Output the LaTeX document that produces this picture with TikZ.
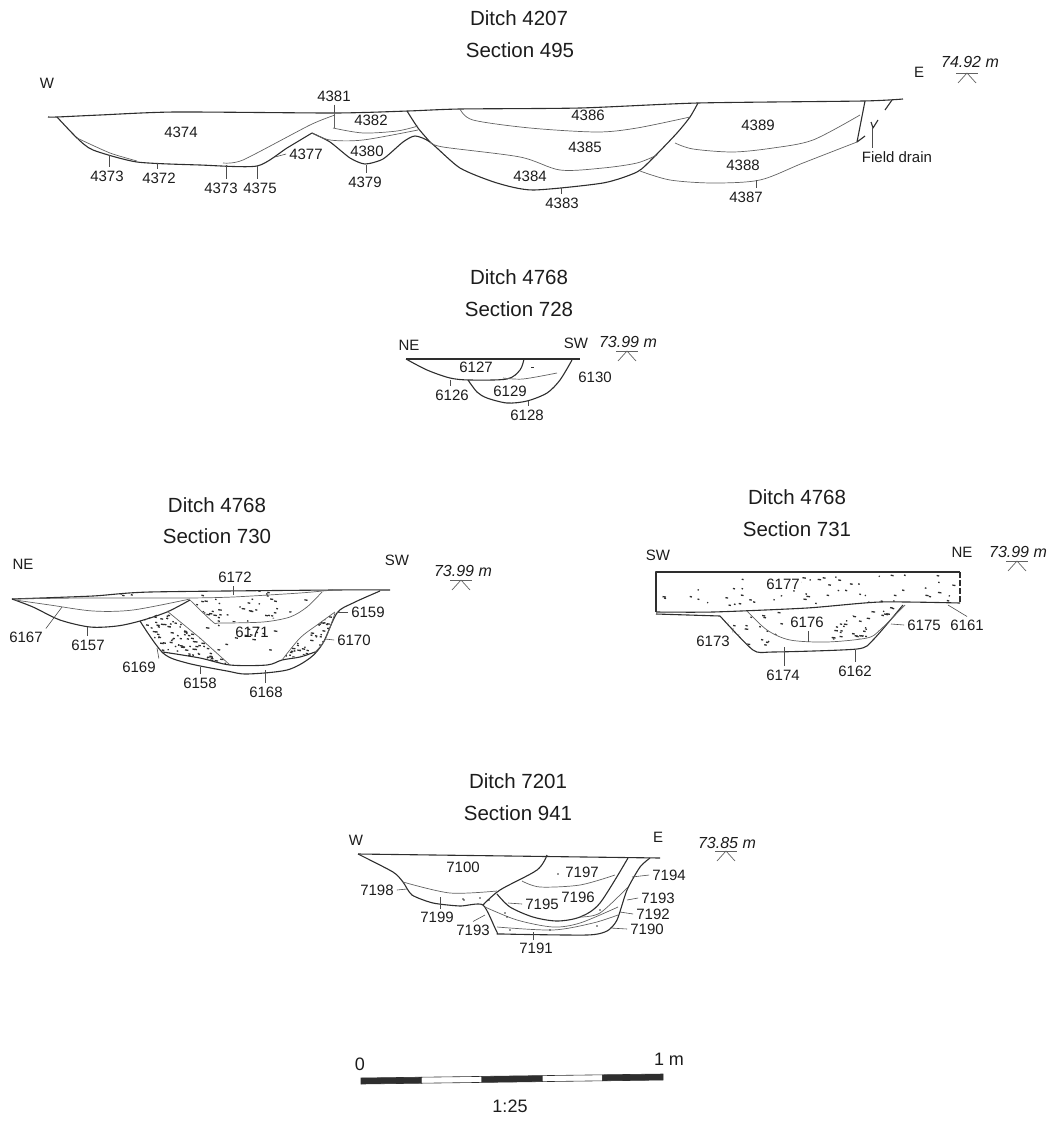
\documentclass[tikz,border=0pt]{standalone}
\usepackage{fontspec}
\setmainfont{Liberation Sans}
\definecolor{inkline}{HTML}{2E2E2E}
\definecolor{inktext}{HTML}{1C1C1C}
\tikzset{
  cutline/.style={inkline, line width=1.1pt, line join=round},
  fillline/.style={inkline!75, line width=0.7pt, line join=round},
  lead/.style={inkline!85, line width=0.6pt},
  num/.style={inner sep=3pt, text=inktext, font=\fontsize{15}{18}\selectfont},
  head/.style={inner sep=1pt, text=inktext, font=\fontsize{20.5}{24}\selectfont},
  compass/.style={inner sep=1pt, text=inktext, font=\fontsize{15}{18}\selectfont},
  level/.style={inner sep=1pt, text=inktext, font=\fontsize{16}{19}\selectfont\itshape},
  barnum/.style={inner sep=1pt, text=inktext, font=\fontsize{18}{21}\selectfont}
}
% random flecks in a box, for use inside a clip
\newcommand{\speckle}[5]{
  \foreach \k in {1,...,#1}{
    \pgfmathsetmacro\sx{#2+rnd*(#4-#2)}
    \pgfmathsetmacro\sy{#3+rnd*(#5-#3)}
    \pgfmathsetmacro\sw{1+rnd*2.6}
    \draw[inkline, line width=1.3pt] (\sx,\sy) -- ++(\sw,0.5);
  }
}
\begin{document}
\begin{tikzpicture}[x=1pt,y=-1pt]
\useasboundingbox (0,0) rectangle (1054,1122);
\pgfmathsetseed{4207}

% Ditch 4207
\node[head] (t4207) at (519,18) {Ditch 4207};
\node[head] (s495) at (520,50) {Section 495};
\node[compass] (w495) at (47,83) {W};
\node[compass] (e495) at (919,72) {E};
\node[level] (h495) at (970,62) {74.92 m};
\draw[cutline] plot[smooth, tension=0.4] coordinates {(48,117) (57,117) (100,115) (175,112) (335,113) (408,111) (460,109) (580,108) (698,103) (863,101) (903,99)};
\draw[cutline] plot[smooth, tension=0.4] coordinates {(57,117) (77,138) (93,150) (137,162) (200,165) (257,166) (287,148) (312,133)};
\draw[cutline] plot[smooth, tension=0.4] coordinates {(312,133) (330,142) (350,158) (365,164) (383,159) (403,142) (415,136) (430,142) (460,168) (497,183) (533,190) (603,183) (637,172) (653,158) (677,133) (690,117) (698,103)};
\draw[cutline] plot[smooth, tension=0.4] coordinates {(407,111) (418,128) (430,142)};
\draw[fillline] plot[smooth, tension=0.4] coordinates {(77,138) (110,153) (137,161)};
\draw[fillline] plot[smooth, tension=0.4] coordinates {(223,163) (243,160) (310,125) (335,115)};
\draw[fillline] (334,113) -- (334,128);
\draw[fillline] plot[smooth, tension=0.5] coordinates {(333,128) (363,133) (397,131) (418,126)};
\draw[fillline] plot[smooth, tension=0.5] coordinates {(312,133) (330,140) (363,140) (418,130)};
\draw[fillline] plot[smooth, tension=0.5] coordinates {(460,109) (473,120) (530,128) (597,132) (637,128) (690,117)};
\draw[fillline] plot[smooth, tension=0.5] coordinates {(430,142) (443,147) (520,157) (560,170) (603,168) (637,163) (657,155)};
\draw[fillline] plot[smooth, tension=0.5] coordinates {(675,143) (693,149) (733,152) (773,148) (813,140) (860,115)};
\draw[fillline] plot[smooth, tension=0.5] coordinates {(640,171) (670,180) (713,183) (760,180) (803,163) (857,142)};
\draw[cutline] (865,101) -- (857,142) -- (865,136);
\draw[cutline] (885,110) -- (892,100);
\draw[cutline] (871,122) -- (873,128) -- (878,120);
\node[num] (n4381) at (334,96) {4381};
\node[num] (n4374) at (181,132) {4374};
\node[num] (n4382) at (371,120) {4382};
\node[num] (n4377) at (306,154) {4377};
\node[num] (n4380) at (367,151) {4380};
\node[num] (n4379) at (365,182) {4379};
\node[num] (n4373a) at (107,176) {4373};
\node[num] (n4372) at (159,178) {4372};
\node[num] (n4373b) at (221,188) {4373};
\node[num] (n4375) at (260,188) {4375};
\node[num] (n4386) at (588,115) {4386};
\node[num] (n4385) at (585,147) {4385};
\node[num] (n4384) at (530,176) {4384};
\node[num] (n4383) at (562,203) {4383};
\node[num] (n4389) at (758,125) {4389};
\node[num] (n4388) at (743,165) {4388};
\node[num] (n4387) at (746,197) {4387};
\node[num] (nfield) at (897,157) {Field drain};
\draw[lead] (n4381.south) -- (334,113);
\draw[lead] (109,155) -- (109,155 |- n4373a.north);
\draw[lead] (157,163) -- (157,163 |- n4372.north);
\draw[lead] (226,165) -- (226,165 |- n4373b.north);
\draw[lead] (257,166) -- (257,166 |- n4375.north);
\draw[lead] (n4377.west) -- (275,157);
\draw[lead] (366,165) -- (366,165 |- n4379.north);
\draw[lead] (561,188) -- (561,188 |- n4383.north);
\draw[lead] (756,180) -- (756,180 |- n4387.north);
\draw[lead] (872,128) -- (872,128 |- nfield.north);

% Ditch 4768, section 728
\node[head] (t728) at (519,277) {Ditch 4768};
\node[head] (s728) at (519,309) {Section 728};
\node[compass] (ne728) at (409,345) {NE};
\node[compass] (sw728) at (576,343) {SW};
\node[level] (h728) at (628,342) {73.99 m};
\draw[cutline] (406,359) -- (580,359);
\draw[cutline] plot[smooth, tension=0.5] coordinates {(406,359) (427,370) (450,378) (470,380) (507,379) (520,370) (524,359)};
\draw[cutline] plot[smooth, tension=0.5] coordinates {(572,360) (560,380) (547,393) (527,401) (507,403) (487,398) (477,392) (468,380)};
\draw[fillline] plot[smooth, tension=0.5] coordinates {(503,378) (523,379) (557,373)};
\fill[inkline] (531,366.5) rectangle (533.5,367.5);
\node[num] (n6127) at (476,367) {6127};
\node[num] (n6130) at (595,377) {6130};
\node[num] (n6126) at (452,395) {6126};
\node[num] (n6129) at (510,391) {6129};
\node[num] (n6128) at (527,415) {6128};
\draw[lead] (450,380) -- (450,380 |- n6126.north);
\draw[lead] (528,401) -- (528,401 |- n6128.north);

% Ditch 4768, section 730
\node[head] (t730) at (217,505) {Ditch 4768};
\node[head] (s730) at (217,536) {Section 730};
\node[compass] (ne730) at (23,564) {NE};
\node[compass] (sw730) at (397,560) {SW};
\node[level] (h730) at (463,571) {73.99 m};
\begin{scope}
\clip (167,611) -- (200,638) -- (230,665) -- (200,658) -- (163,652) -- (140,621) -- cycle;
\speckle{190}{140}{611}{230}{665}
\end{scope}
\begin{scope}
\clip (282,660) -- (300,638) -- (317,625) -- (335,612) -- (325,640) -- (315,652) -- cycle;
\speckle{110}{282}{612}{335}{660}
\end{scope}
\begin{scope}
\clip (190,600) -- (213,622) -- (263,622) -- (307,607) -- (322,592) -- (190,592) -- cycle;
\speckle{48}{195}{598}{310}{622}
\end{scope}
\speckle{14}{205}{625}{290}{656}
\speckle{8}{100}{590}{300}{596}
\draw[cutline] plot[smooth, tension=0.4] coordinates {(12,599) (93,596) (150,592) (333,590) (390,590)};
\draw[fillline] plot[smooth, tension=0.4] coordinates {(12,599) (83,598) (187,598) (233,597) (300,593) (333,590)};
\draw[cutline] plot[smooth, tension=0.5] coordinates {(12,599) (33,607) (60,620) (90,627) (117,626) (140,621) (167,612) (190,600)};
\draw[fillline] plot[smooth, tension=0.5] coordinates {(15,600) (50,605) (93,611) (133,610) (190,599)};
\draw[cutline] plot[smooth, tension=0.5] coordinates {(140,621) (163,653) (187,663) (227,671) (247,674) (287,670) (310,658) (323,643) (337,613) (353,603) (380,591)};
\draw[cutline] plot[smooth, tension=0.5] coordinates {(163,652) (200,658) (230,665) (267,665) (282,660) (300,657) (315,652)};
\draw[fillline] (167,611) -- (200,638) -- (230,665);
\draw[fillline] plot[smooth, tension=0.5] coordinates {(190,600) (213,622) (220,623) (263,622) (290,617) (307,607) (322,592)};
\draw[fillline] plot[smooth, tension=0.5] coordinates {(282,660) (300,638) (317,625) (335,612)};
\draw[fillline] plot[smooth, tension=0.5] coordinates {(315,652) (325,640) (335,613)};
\node[num] (n6172) at (235,577) {6172};
\node[num] (n6167) at (26,637) {6167};
\node[num] (n6157) at (88,645) {6157};
\node[num] (n6169) at (139,667) {6169};
\node[num] (n6158) at (200,683) {6158};
\node[num] (n6168) at (266,692) {6168};
\node[num] (n6171) at (252,632) {6171};
\node[num] (n6170) at (354,640) {6170};
\node[num] (n6159) at (368,612) {6159};
\draw[lead] (233,595) -- (233,595 |- n6172.south);
\draw[lead] (n6167.north east) -- (62,607);
\draw[lead] (87,627) -- (87,627 |- n6157.north);
\draw[lead] (n6169.north east) -- (157,648);
\draw[lead] (200,667) -- (200,667 |- n6158.north);
\draw[lead] (265,670) -- (265,670 |- n6168.north);
\draw[lead] (n6170.west) -- (325,639);
\draw[lead] (n6159.west) -- (337,612);

% Ditch 4768, section 731
\node[head] (t731) at (797,497) {Ditch 4768};
\node[head] (s731) at (797,529) {Section 731};
\node[compass] (sw731) at (658,555) {SW};
\node[compass] (ne731) at (962,552) {NE};
\node[level] (h731) at (1018,552) {73.99 m};
\begin{scope}
\clip (656,572) -- (960,572) -- (960,603) -- (880,602) -- (807,608) -- (713,612) -- (656,612) -- cycle;
\speckle{60}{662}{575}{958}{606}
\end{scope}
\begin{scope}
\clip (827,640) -- (837,620) -- (880,608) -- (900,606) -- (880,630) -- (867,638) -- cycle;
\speckle{85}{827}{606}{900}{640}
\end{scope}
\begin{scope}
\clip (722,616) -- (747,611) -- (767,630) -- (790,640) -- (770,652) -- (753,650) -- cycle;
\speckle{26}{722}{611}{790}{652}
\end{scope}
\speckle{4}{755}{612}{785}{626}
\draw[cutline] (656,612) -- (656,572) -- (960,572);
\draw[cutline, dashed, dash pattern=on 6pt off 2pt] (960,572) -- (960,603);
\draw[cutline] plot[smooth, tension=0.4] coordinates {(656,612) (713,612) (807,608) (880,602) (960,603)};
\draw[cutline] (656,614) -- (720,616);
\draw[cutline] plot[smooth, tension=0.4] coordinates {(720,616) (753,650) (773,652) (857,649) (873,640) (903,605)};
\draw[fillline] plot[smooth, tension=0.5] coordinates {(747,611) (767,630) (790,640) (827,642) (867,638) (880,630) (905,605)};
\node[num, fill=white, inner sep=1pt] (n6177) at (783,584) {6177};
\node[num] (n6176) at (807,622) {6176};
\node[num] (n6173) at (713,641) {6173};
\node[num] (n6174) at (783,675) {6174};
\node[num] (n6162) at (855,671) {6162};
\node[num] (n6175) at (924,625) {6175};
\node[num] (n6161) at (967,625) {6161};
\draw[lead] (808,642) -- (808,642 |- n6176.south);
\draw[lead] (n6173.north east) -- (733,628);
\draw[lead] (784,647) -- (784,647 |- n6174.north);
\draw[lead] (855,650) -- (855,650 |- n6162.north);
\draw[lead] (n6175.west) -- (891,624);
\draw[lead] (n6161.north) -- (948,605);

% Ditch 7201
\node[head] (t7201) at (518,781) {Ditch 7201};
\node[head] (s941) at (518,813) {Section 941};
\node[compass] (w941) at (356,840) {W};
\node[compass] (e941) at (658,837) {E};
\node[level] (h941) at (727,843) {73.85 m};
\draw[cutline] (358,854) -- (660,858);
\draw[cutline] plot[smooth, tension=0.4] coordinates {(358,854) (393,872) (403,882) (412,895) (433,903) (460,906) (483,905) (497,932) (503,934) (587,935) (607,931) (617,920) (627,890) (640,867) (650,858)};
\draw[cutline] plot[smooth, tension=0.5] coordinates {(547,855) (537,870) (500,890) (483,905)};
\draw[fillline] plot[smooth, tension=0.5] coordinates {(403,882) (450,893) (497,891)};
\draw[fillline] plot[smooth, tension=0.5] coordinates {(522,881) (540,887) (580,885) (615,875)};
\draw[cutline] plot[smooth, tension=0.5] coordinates {(497,894) (510,907) (533,917) (557,921) (580,917) (600,903) (628,858)};
\draw[fillline] plot[smooth, tension=0.5] coordinates {(485,907) (517,920) (553,927) (580,923) (618,907)};
\draw[fillline] plot[smooth, tension=0.5] coordinates {(497,927) (553,930) (593,923) (618,915)};
\draw[fillline] plot[smooth, tension=0.5] coordinates {(580,917) (600,913) (628,887)};
\foreach \fx/\fy in {558/874,464/900,463/899,489/900,480/898,507/917,510/930,550/930,597/926,600/910,505/913}
  \fill[inkline] (\fx,\fy) circle (0.8);
\node[num] (n7100) at (463,867) {7100};
\node[num] (n7197) at (582,872) {7197};
\node[num] (n7196) at (578,897) {7196};
\node[num] (n7195) at (542,904) {7195};
\node[num] (n7198) at (377,890) {7198};
\node[num] (n7199) at (437,917) {7199};
\node[num] (n7193a) at (473,930) {7193};
\node[num] (n7191) at (536,948) {7191};
\node[num] (n7194) at (669,875) {7194};
\node[num] (n7193b) at (658,898) {7193};
\node[num] (n7192) at (653,914) {7192};
\node[num] (n7190) at (647,929) {7190};
\draw[lead] (n7198.east) -- (407,889);
\draw[lead] (440,897) -- (440,897 |- n7199.north);
\draw[lead] (n7193a.north) -- (485,915);
\draw[lead] (n7195.west) -- (508,903);
\draw[lead] (533,932) -- (533,932 |- n7191.north);
\draw[lead] (n7194.west) -- (632,877);
\draw[lead] (n7193b.west) -- (627,900);
\draw[lead] (n7192.west) -- (620,912);
\draw[lead] (n7190.west) -- (610,928);

% level marks
\foreach \x/\y in {967/73,627/351,461/580,1017/561,726/851}{
  \draw[fillline] (\x-11,\y) -- (\x+11,\y);
  \draw[fillline] (\x-9,\y+10) -- (\x,\y) -- (\x+9,\y+10);
}

% scale bar
\foreach \i/\c in {0/inkline,1/white,2/inkline,3/white,4/inkline}
  \filldraw[fill=\c, draw=inkline, line width=0.6pt] ({361+60.4*\i},{1084-0.8*\i}) -- ++(60.4,-0.8) -- ++(0,-6) -- ++(-60.4,0.8) -- cycle;
\node[barnum] (s0) at (360,1064) {0};
\node[barnum] (s1) at (669,1059) {1 m};
\node[barnum] (s25) at (510,1106) {1:25};
\end{tikzpicture}
\end{document}
